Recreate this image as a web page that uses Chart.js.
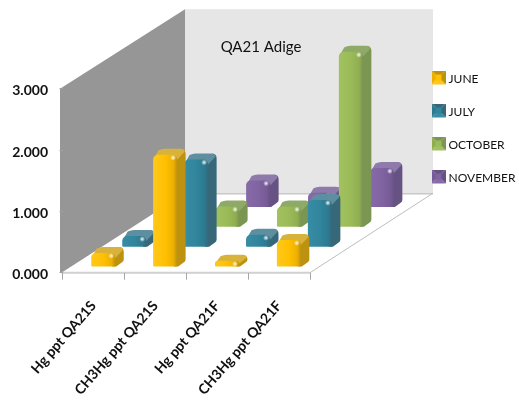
<!DOCTYPE html>
<html>
<head>
<meta charset="utf-8">
<title>QA21 Adige</title>
<script src="https://cdn.jsdelivr.net/npm/chart.js@4/dist/chart.umd.min.js"></script>
<style>
    html, body { margin: 0; padding: 0; background: #fff; }
    canvas { display: block; }
</style>
</head>
<body>
<canvas id="chart" width="519" height="405"></canvas>
<script>
const categories = ['Hg ppt QA21S', 'CH3Hg ppt QA21S', 'Hg ppt QA21F', 'CH3Hg ppt QA21F'];
const june = [0.23, 1.83, 0.10, 0.44];
const july = [0.18, 1.43, 0.20, 0.77];
const october = [null, 0.34, 0.34, 2.86];
const november = [null, 0.44, 0.24, 0.64];
const yTicks = [0, 1, 2, 3];

// front, side, top colours per series
const palette = [
    { front: '#FFC000', light: '#FFC81A', dark: '#EDB000', side: '#BD9210', top: '#D9B23C' },
    { front: '#31859C', light: '#378DA4', dark: '#2C7A90', side: '#37687A', top: '#5E8FA0' },
    { front: '#9BBB59', light: '#A2C160', dark: '#90AE50', side: '#7B9553', top: '#8FA968' },
    { front: '#8064A2', light: '#876BA9', dark: '#775B98', side: '#675383', top: '#8F7BAB' }
];

// depth of the floor, and of one series slot along it
const DEPTH_X = 124, DEPTH_Y = 79.5;
const SLOT_X = DEPTH_X / 4, SLOT_Y = DEPTH_Y / 4;
const FIRST_X = 9.8, FIRST_Y = 5.7;
const BAR_DX = 8.5, BAR_DY = 6;

class Bar3D extends Chart.BarElement {
    draw(ctx) {
        const { x, y, base, width } = this.getProps(['x', 'y', 'base', 'width']);
        const c = palette[this.series];
        const ox = FIRST_X + SLOT_X * this.series, oy = FIRST_Y + SLOT_Y * this.series;
        const l = x - width / 2 + ox, r = l + width;
        const t = y - oy, b = base - oy;
        const rad = Math.min(5, (b - t) / 2);

        ctx.save();
        // side face
        ctx.fillStyle = c.side;
        ctx.beginPath();
        ctx.moveTo(r - 3, t + 1);
        ctx.lineTo(r + BAR_DX - 5, t - BAR_DY + 0.5);
        ctx.quadraticCurveTo(r + BAR_DX, t - BAR_DY, r + BAR_DX, t - BAR_DY + 5);
        ctx.lineTo(r + BAR_DX, b - BAR_DY - 1);
        ctx.quadraticCurveTo(r + BAR_DX, b - BAR_DY + 1, r + BAR_DX - 2, b - BAR_DY + 2);
        ctx.lineTo(r + 1, b);
        ctx.lineTo(r - 3, b);
        ctx.closePath();
        ctx.fill();
        // top face
        ctx.fillStyle = c.top;
        ctx.beginPath();
        ctx.moveTo(l, t + rad);
        ctx.lineTo(l + BAR_DX - 3, t - BAR_DY + 1.5);
        ctx.quadraticCurveTo(l + BAR_DX, t - BAR_DY, l + BAR_DX + 3, t - BAR_DY);
        ctx.lineTo(r + BAR_DX - 5, t - BAR_DY);
        ctx.quadraticCurveTo(r + BAR_DX - 1, t - BAR_DY, r + BAR_DX - 1, t - BAR_DY + 3);
        ctx.lineTo(r, t + rad);
        ctx.closePath();
        ctx.fill();
        // front face
        const g = ctx.createLinearGradient(l, 0, r, 0);
        g.addColorStop(0, c.light);
        g.addColorStop(0.5, c.front);
        g.addColorStop(0.85, c.dark);
        g.addColorStop(1, c.side);
        ctx.fillStyle = g;
        ctx.beginPath();
        ctx.roundRect(l, t, width, b - t, [rad, rad, 1, 1]);
        ctx.fill();
        // soft glint on the upper right corner
        const gx = r - 4, gy = t + 3;
        const glint = ctx.createRadialGradient(gx, gy, 0.3, gx, gy, 3);
        glint.addColorStop(0, 'rgba(255,255,255,0.85)');
        glint.addColorStop(1, 'rgba(255,255,255,0)');
        ctx.fillStyle = glint;
        ctx.beginPath();
        ctx.arc(gx, gy, 3, 0, Math.PI * 2);
        ctx.fill();
        ctx.restore();
    }
}
Bar3D.id = 'bar3d';
Bar3D.defaults = Chart.BarElement.defaults;
Bar3D.defaultRoutes = Chart.BarElement.defaultRoutes;

class Bar3DController extends Chart.BarController {
    updateElements(bars, start, count, mode) {
        super.updateElements(bars, start, count, mode);
        // each bar needs its series slot to find its place along the floor
        bars.forEach(bar => { bar.series = this.index; });
    }
}
Bar3DController.id = 'bar3d';
Bar3DController.defaults = Object.assign({}, Chart.BarController.defaults, { dataElementType: 'bar3d' });
Bar3DController.overrides = Chart.BarController.overrides;

Chart.register(Bar3D, Bar3DController);

// bevelled square used as legend key, with a spare strip below so it sits above the text middle
function legendIcon(c) {
    const s = 14, i = 4;
    const cv = document.createElement('canvas');
    cv.width = s; cv.height = s + 3;
    const ctx = cv.getContext('2d');
    const face = (pts, col) => {
        ctx.fillStyle = col;
        ctx.beginPath();
        pts.forEach((p, n) => n ? ctx.lineTo(p[0], p[1]) : ctx.moveTo(p[0], p[1]));
        ctx.closePath();
        ctx.fill();
    };
    face([[0, 0], [s, 0], [s - i, i], [i, i]], c.side);
    face([[0, 0], [i, i], [i, s - i], [0, s]], c.dark);
    face([[s, 0], [s, s], [s - i, s - i], [s - i, i]], c.side);
    face([[0, s], [s, s], [s - i, s - i], [i, s - i]], c.light);
    ctx.fillStyle = c.front;
    ctx.fillRect(i, i, s - 2 * i, s - 2 * i);
    return cv;
}
const icons = palette.map(legendIcon);

// side wall, back wall and floor behind the bars
const roomPlugin = {
    id: 'room',
    beforeDraw(chart) {
        const { ctx, scales: { x: xs, y: ys } } = chart;
        const fx = xs.left, fr = xs.right;
        const y0 = ys.getPixelForValue(0), y3 = ys.getPixelForValue(3);
        const bx = fx + DEPTH_X - 1.5, bt = y3 - DEPTH_Y, bb = y0 - DEPTH_Y;
        const br = fr + DEPTH_X - 1;

        ctx.save();
        ctx.fillStyle = '#E6E6E6';
        ctx.fillRect(bx, bt, br - bx, bb - bt);
        ctx.fillStyle = '#969696';
        ctx.beginPath();
        ctx.moveTo(fx - 2.5, y3);
        ctx.lineTo(bx, bt);
        ctx.lineTo(bx, bb);
        ctx.lineTo(fx - 1, y0);
        ctx.lineTo(fx - 2.5, y0);
        ctx.closePath();
        ctx.fill();
        // floor edges
        ctx.strokeStyle = '#C8C8C8';
        ctx.lineWidth = 1.5;
        ctx.beginPath();
        ctx.moveTo(bx, bb + 0.5);
        ctx.lineTo(br, bb + 0.5);
        ctx.stroke();
        ctx.strokeStyle = '#BDBDBD';
        ctx.lineWidth = 1;
        ctx.beginPath();
        ctx.moveTo(fr, y0);
        ctx.lineTo(br, bb);
        ctx.stroke();
        ctx.strokeStyle = '#D0D0D0';
        ctx.lineWidth = 2;
        ctx.beginPath();
        ctx.moveTo(fx - 1, y0);
        ctx.lineTo(fr, y0);
        ctx.stroke();
        ctx.restore();
    },
    afterLayout(chart) {
        // heading and key sit over the room, not in their own layout slots
        chart.titleBlock.left = 0;
        chart.titleBlock.right = 522;
        chart.legend.left = 413.5;
        chart.legend.right = 519;
        chart.legend.top = 52;
        chart.legend.bottom = 405;
    }
};

const seriesNames = ['JUNE', 'JULY', 'OCTOBER', 'NOVEMBER'];
const seriesValues = [june, july, october, november];

new Chart(document.getElementById('chart'), {
    type: 'bar3d',
    data: {
        labels: categories,
        datasets: seriesValues.map((values, i) => ({
            label: seriesNames[i],
            data: values,
            backgroundColor: palette[i].front,
            barThickness: 24,
            grouped: false,
            clip: false
        }))
    },
    plugins: [roomPlugin],
    options: {
        responsive: false,
        animation: false,
        layout: { padding: { left: 0, right: 209, top: 0, bottom: 0 } },
        scales: {
            x: {
                type: 'category',
                offset: true,
                afterFit: s => { s.height = 132.3; },
                border: { display: false },
                grid: { offset: true, drawOnChartArea: false, tickLength: 7, color: '#A6A6A6' },
                ticks: {
                    autoSkip: false,
                    minRotation: 49,
                    maxRotation: 49,
                    padding: 18,
                    color: '#111',
                    font: { family: 'Lato', size: 14, weight: 'bold' }
                }
            },
            y: {
                min: 0,
                max: 3,
                afterFit: s => { s.width = 62.5; },
                afterBuildTicks: s => { s.ticks = yTicks.map(v => ({ value: v })); },
                border: { display: false },
                grid: { drawOnChartArea: false, tickLength: 3, color: '#A0A0A0' },
                ticks: {
                    padding: 11.5,
                    labelOffset: 2,
                    color: '#111',
                    font: { family: 'Lato', size: 14, weight: 'bold' },
                    callback: v => v.toFixed(3)
                }
            }
        },
        plugins: {
            title: {
                display: true,
                text: 'QA21 Adige',
                color: '#111',
                font: { family: 'Lato', size: 15, weight: 'normal' },
                padding: { top: 38, bottom: 32.7 }
            },
            legend: {
                position: 'chartArea',
                align: 'start',
                labels: {
                    usePointStyle: true,
                    pointStyleWidth: 8,
                    padding: 21,
                    color: '#111',
                    font: { family: 'Lato', size: 12 },
                    generateLabels(chart) {
                        return Chart.defaults.plugins.legend.labels.generateLabels(chart)
                            .map((item, i) => Object.assign(item, { pointStyle: icons[i] }));
                    }
                }
            },
            tooltip: { enabled: false }
        }
    }
});
</script>
</body>
</html>
